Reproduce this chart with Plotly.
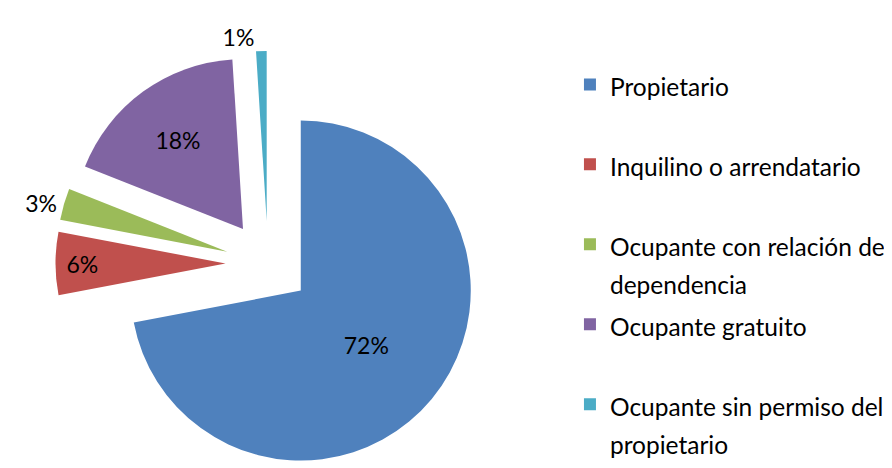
import plotly.graph_objects as go

categories = ["Propietario", "Inquilino o arrendatario", "Ocupante con relación de",
              "Ocupante gratuito", "Ocupante sin permiso del"]
second_lines = ["", "", "dependencia", "", "propietario"]
values = [72, 6, 3, 18, 1]
colors = ["#4F81BD", "#C0504D", "#9BBB59", "#8064A2", "#4BACC6"]
text_positions = ["inside", "inside", "outside", "inside", "outside"]

SPAN = "<span style='font-size:24.5px'>{}</span>"


def legend_label(first, second):
    lines = [SPAN.format(first), SPAN.format(second) if second else "\u00a0"]
    return "<br>".join(lines)


labels = [legend_label(c, s) for c, s in zip(categories, second_lines)]

fig = go.Figure(go.Pie(
    labels=labels,
    values=values,
    sort=False,
    direction="clockwise",
    rotation=0,
    pull=[0.25] * len(values),
    marker=dict(colors=colors, line=dict(width=0)),
    textinfo="percent",
    texttemplate="%{percent:.0%}",
    textposition=text_positions,
    insidetextorientation="horizontal",
    textfont=dict(family="Lato", size=23, color="black"),
    domain=dict(x=[0, 0.583], y=[0, 1]),
    hoverinfo="percent",
))

fig.update_layout(
    width=892, height=468,
    margin=dict(l=0, r=0, t=43, b=0, autoexpand=False),
    paper_bgcolor="white",
    plot_bgcolor="white",
    showlegend=True,
    legend=dict(
        x=0.630, y=0.982, xanchor="left", yanchor="top",
        font=dict(family="Lato", size=29.6, color="black"),
        valign="top",
        maxheight=1,
        bgcolor="rgba(0,0,0,0)",
    ),
)

fig.write_html("out.html")
